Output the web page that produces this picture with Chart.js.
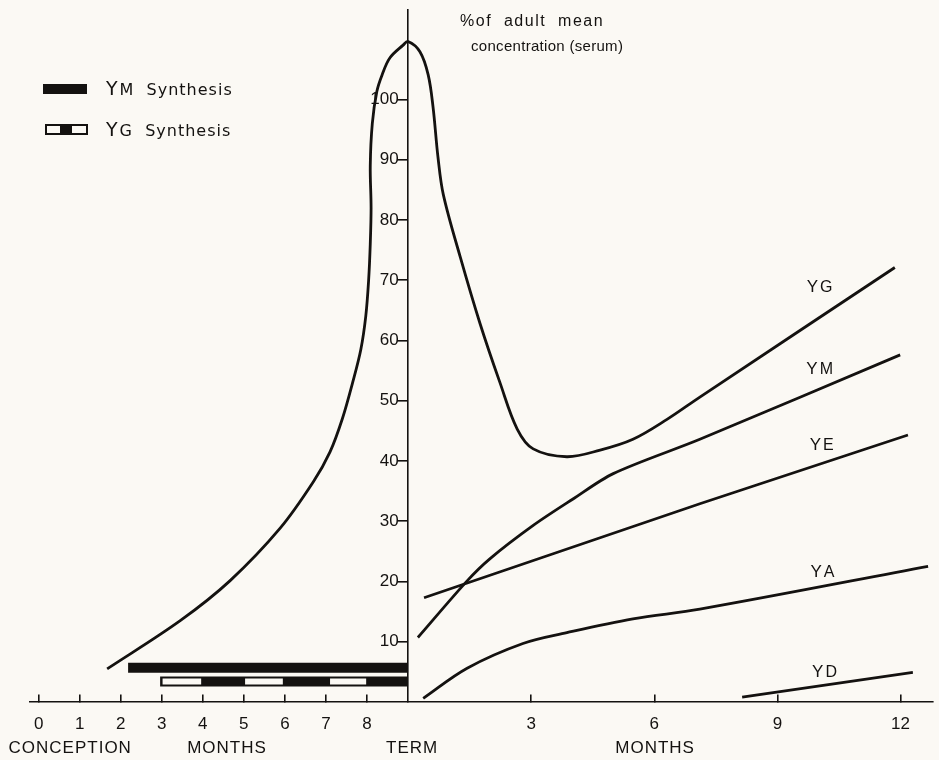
<!DOCTYPE html>
<html>
<head>
<meta charset="utf-8">
<script src="https://cdn.jsdelivr.net/npm/chart.js@4.4.1/dist/chart.umd.min.js"></script>
<style>
    html, body { margin: 0; padding: 0; background: #fbf9f4; }
    #wrap { width: 939px; height: 760px; }
</style>
</head>
<body>
<div id="wrap"><canvas id="myChart" width="939" height="760"></canvas></div>
<script>
// x = months from term (negative = before birth, -9 = conception)
let totalMonths = [-7.33, -5.55, -4.34, -3.12, -2.31, -1.90, -1.60, -1.35, -1.15, -1.03, -0.96, -0.92, -0.90, -0.92, -0.87, -0.76, -0.63, -0.44, -0.12, 0, 0.29, 0.49, 0.61, 0.73, 0.86, 1.27, 1.75, 2.24, 2.66, 3.05, 3.87, 4.68, 5.48, 6.31, 7.11, 11.86];
let totalPct = [5.5, 13.5, 20.1, 28.8, 36.5, 41.5, 47.0, 53.0, 58.5, 64.0, 70.0, 76.0, 82.0, 89.0, 96.0, 101.3, 104.1, 106.9, 109.0, 109.6, 107.9, 104.1, 98.7, 90.4, 84.2, 73.9, 62.9, 53.0, 45.3, 42.0, 40.7, 41.8, 43.6, 46.9, 50.6, 72.1];

let igmMonths = [0.24, 1.44, 2.0, 3.05, 4.0, 5.0, 7.11, 11.99];
let igmPct = [10.7, 20.1, 23.8, 29.3, 33.6, 37.9, 43.6, 57.6];

let igeMonths = [0.39, 7.11, 12.18];
let igePct = [17.3, 32.9, 44.3];

let igaMonths = [0.37, 1.44, 2.80, 3.87, 5.48, 7.11, 12.67];
let igaPct = [0.6, 5.6, 9.7, 11.5, 13.8, 15.4, 22.5];

let igdMonths = [8.14, 12.30];
let igdPct = [0.8, 4.9];

// fetal synthesis periods (months from term)
let ymSynthesis = [-6.82, 0];
let ygSynthesis = [-6.04, 0];
let ygGaps = [[-5.98, -5.04], [-3.97, -3.05], [-1.90, -1.02]];

let xTicks = [-9, -8, -7, -6, -5, -4, -3, -2, -1, 3, 6, 9, 12];
let yTicks = [10, 20, 30, 40, 50, 60, 70, 80, 90, 100];

let curveNames = ['G', 'M', 'E', 'A', 'D'];
let curveLabelAt = [[10.04, 69.0], [10.04, 55.5], [10.09, 42.8], [10.11, 21.7], [10.16, 5.2]];

let ink = '#141210';
let paper = '#fbf9f4';
let fam = '"Liberation Sans", Arial, sans-serif';
let famWide = '"DejaVu Sans", sans-serif';

function pts(xs, ys) {
    return xs.map((x, i) => ({ x: x, y: ys[i] }));
}

function curve(xs, ys, tension) {
    return {
        data: pts(xs, ys),
        borderColor: ink,
        borderWidth: 2.8,
        pointRadius: 0,
        tension: tension,
        showLine: true,
        fill: false,
        order: 1
    };
}

function bar(range, yv, width, color, order) {
    return {
        data: [{ x: range[0], y: yv }, { x: range[1], y: yv }],
        borderColor: color,
        borderWidth: width,
        borderCapStyle: 'butt',
        pointRadius: 0,
        showLine: true,
        fill: false,
        order: order
    };
}

let datasets = [
    curve(totalMonths, totalPct, 0.35),
    curve(igmMonths, igmPct, 0.3),
    curve(igeMonths, igePct, 0),
    curve(igaMonths, igaPct, 0.35),
    curve(igdMonths, igdPct, 0),
    bar(ymSynthesis, 5.7, 10, ink, 1),
    bar(ygSynthesis, 3.4, 10, ink, 1)
];
ygGaps.forEach(g => datasets.push(bar(g, 3.4, 6, paper, 0)));

function gammaText(ctx, rest, x, y, sizeY, size, align, family) {
    ctx.textBaseline = 'alphabetic';
    ctx.font = sizeY + 'px ' + family;
    let wy = ctx.measureText('Y').width;
    ctx.font = size + 'px ' + family;
    let wr = ctx.measureText(rest).width;
    let left = align == 'center' ? x - (wy + wr + 1) / 2 : x;
    ctx.textAlign = 'left';
    ctx.font = sizeY + 'px ' + family;
    ctx.fillText('Y', left, y);
    ctx.font = size + 'px ' + family;
    ctx.fillText(rest, left + wy + 1, y);
}

let extras = {
    id: 'extras',
    beforeDraw(chart) {
        let c = chart.ctx;
        c.save();
        c.fillStyle = paper;
        c.fillRect(0, 0, chart.width, chart.height);
        c.restore();
    },
    afterDraw(chart) {
        let c = chart.ctx;
        let sx = chart.scales.x;
        let sy = chart.scales.y;
        c.save();
        c.fillStyle = ink;

        // curve labels
        c.letterSpacing = '1px';
        curveNames.forEach((n, i) => {
            gammaText(c, n, sx.getPixelForValue(curveLabelAt[i][0]), sy.getPixelForValue(curveLabelAt[i][1]) + 6, 17, 16, 'center', fam);
        });

        // y axis title
        c.letterSpacing = '1.5px';
        c.font = '16px ' + fam;
        c.textAlign = 'left';
        c.textBaseline = 'middle';
        c.fillText('%of  adult  mean', 460, 22);
        c.letterSpacing = '0.3px';
        c.font = '15px ' + fam;
        c.fillText('concentration (serum)', 471, 47);

        // words under the x axis
        let base = sy.getPixelForValue(0) + 46;
        c.letterSpacing = '1px';
        c.font = '17px ' + fam;
        c.textAlign = 'center';
        [['CONCEPTION', -8.23], ['MONTHS', -4.41], ['TERM', 0.1], ['MONTHS', 6.02]].forEach(w => {
            c.fillText(w[0], sx.getPixelForValue(w[1]), base);
        });

        // legend
        c.fillRect(43, 84, 44, 10);
        c.letterSpacing = '1px';
        gammaText(c, 'M  Synthesis', 106, 95, 19, 16, 'left', famWide);
        c.fillRect(45, 124, 43, 11);
        c.fillStyle = paper;
        c.fillRect(47, 126, 13, 7);
        c.fillRect(72, 126, 14, 7);
        c.fillStyle = ink;
        gammaText(c, 'G  Synthesis', 106, 136, 19, 16, 'left', famWide);
        c.restore();
    }
};

let ctx = document.getElementById('myChart').getContext('2d');

let myChart = new Chart(ctx, {
    type: 'scatter',
    data: { datasets: datasets },
    options: {
        responsive: false,
        animation: false,
        layout: { padding: { left: 30, right: 6, top: 5, bottom: 58 } },
        plugins: { legend: { display: false }, tooltip: { enabled: false } },
        scales: {
            x: {
                type: 'linear',
                min: -9.21,
                max: 12.79,
                position: { y: 0 },
                border: { color: ink, width: 1.6 },
                grid: { drawOnChartArea: false, drawTicks: true, tickLength: -8, color: ink, lineWidth: 1.6 },
                ticks: {
                    color: ink,
                    padding: 20,
                    font: { family: fam, size: 17 },
                    callback: v => v < 0 ? v + 9 : v
                },
                afterBuildTicks: s => { s.ticks = xTicks.map(v => ({ value: v })); }
            },
            y: {
                type: 'linear',
                min: 0,
                max: 114.8,
                position: { x: 0 },
                border: { color: ink, width: 1.6 },
                grid: { drawOnChartArea: false, drawTicks: true, tickLength: 10, color: ink, lineWidth: 1.6 },
                ticks: {
                    color: ink,
                    padding: 0,
                    font: { family: fam, size: 17 },
                    callback: v => v + '  '
                },
                afterBuildTicks: s => { s.ticks = yTicks.map(v => ({ value: v })); }
            }
        }
    },
    plugins: [extras]
});
</script>
</body>
</html>
